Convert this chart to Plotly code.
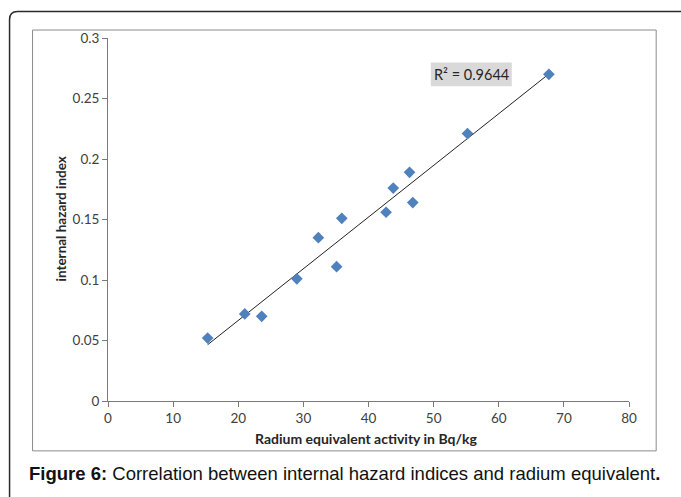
import numpy as np
import plotly.graph_objects as go

# Data
ra_eq = [15.3, 21.0, 23.6, 29.0, 32.3, 35.1, 35.9, 42.7, 43.8, 46.3, 46.8, 55.2, 67.7]
hin = [0.052, 0.072, 0.070, 0.101, 0.135, 0.111, 0.151, 0.156, 0.176, 0.189, 0.164, 0.221, 0.270]
x_ticks = [0, 10, 20, 30, 40, 50, 60, 70, 80]
y_ticks = [0, 0.05, 0.1, 0.15, 0.2, 0.25, 0.3]
y_tick_text = ["0", "0.05", "0.1", "0.15", "0.2", "0.25", "0.3"]
r2_text = "R² = 0.9644"
x_title = "Radium equivalent activity in Bq/kg"
y_title = "internal hazard index"
caption = "<b>Figure 6:</b> Correlation between internal hazard indices and radium equivalent<b>.</b>"

W, H = 681, 497
L, R_ = 108.0, 629.3
T, B = 37.5, 401.5

def px(x):
    return (x - L) / (R_ - L)

def py(y):
    return (B - y) / (B - T)

# trendline (least squares) from data
coef = np.polyfit(ra_eq, hin, 1)
tx = [min(ra_eq), max(ra_eq)]
ty = [coef[0] * v + coef[1] for v in tx]

fig = go.Figure()
fig.add_trace(go.Scatter(x=tx, y=ty, mode="lines",
                         line=dict(color="#222222", width=1), hoverinfo="skip"))
fig.add_trace(go.Scatter(x=ra_eq, y=hin, mode="markers",
                         marker=dict(symbol="diamond", size=9, color="#4F81BD",
                                     line=dict(width=0))))

excel_font = "Lato, 'Open Sans', sans-serif"
axis_common = dict(showgrid=False, zeroline=False, showline=True, linecolor="#7a7a7a",
                   linewidth=1, ticks="outside", ticklen=5, tickcolor="#7a7a7a",
                   tickfont=dict(family=excel_font, size=13.5, color="#404040"))

fig.update_xaxes(range=[0, 80], tickvals=x_ticks, **axis_common)
fig.update_yaxes(range=[0, 0.3], tickvals=y_ticks, ticktext=y_tick_text, **axis_common)

shapes = []
# outer frame with rounded top-left corner, extending beyond the image
x0o, y0o, rr = 9.5, 11.0, 8.0
path = (f"M {px(x0o)},{py(H + 20)} L {px(x0o)},{py(y0o + rr)} "
        f"Q {px(x0o)},{py(y0o)} {px(x0o + rr)},{py(y0o)} L {px(W + 20)},{py(y0o)}")
shapes.append(dict(type="path", xref="paper", yref="paper", path=path,
                   line=dict(color="#2b2b2b", width=1.5)))
# inner chart border
shapes.append(dict(type="rect", xref="paper", yref="paper",
                   x0=px(32.5), x1=px(656.5), y0=py(451.5), y1=py(29.5),
                   line=dict(color="#8c8c8c", width=1), layer="below"))
# R² label box
shapes.append(dict(type="rect", xref="paper", yref="paper",
                   x0=px(431), x1=px(512), y0=py(86), y1=py(62),
                   fillcolor="#d9d9d9", line=dict(width=0), layer="below"))

annotations = [
    dict(text=r2_text, xref="paper", yref="paper", x=px(471.5), y=py(74.5),
         showarrow=False, font=dict(family=excel_font, size=14.5, color="#262626"),
         xanchor="center", yanchor="middle"),
    dict(text=f"<b>{y_title}</b>", xref="paper", yref="paper", x=px(60), y=py(219.5),
         textangle=-90, showarrow=False, font=dict(family=excel_font, size=13.5, color="#262626"),
         xanchor="center", yanchor="middle"),
    dict(text=f"<b>{x_title}</b>", xref="paper", yref="paper", x=px(366), y=py(439),
         showarrow=False, font=dict(family=excel_font, size=14, color="#262626"),
         xanchor="center", yanchor="middle"),
    dict(text=caption, xref="paper", yref="paper", x=px(27), y=py(474),
         showarrow=False, font=dict(family="'Liberation Sans', Arial, sans-serif", size=18.5, color="#111111"),
         xanchor="left", yanchor="middle"),
]

fig.update_layout(width=W, height=H, margin=dict(l=L, r=W - R_, t=T, b=H - B),
                  paper_bgcolor="white", plot_bgcolor="white", showlegend=False,
                  shapes=shapes, annotations=annotations)

fig.write_html("out.html")
